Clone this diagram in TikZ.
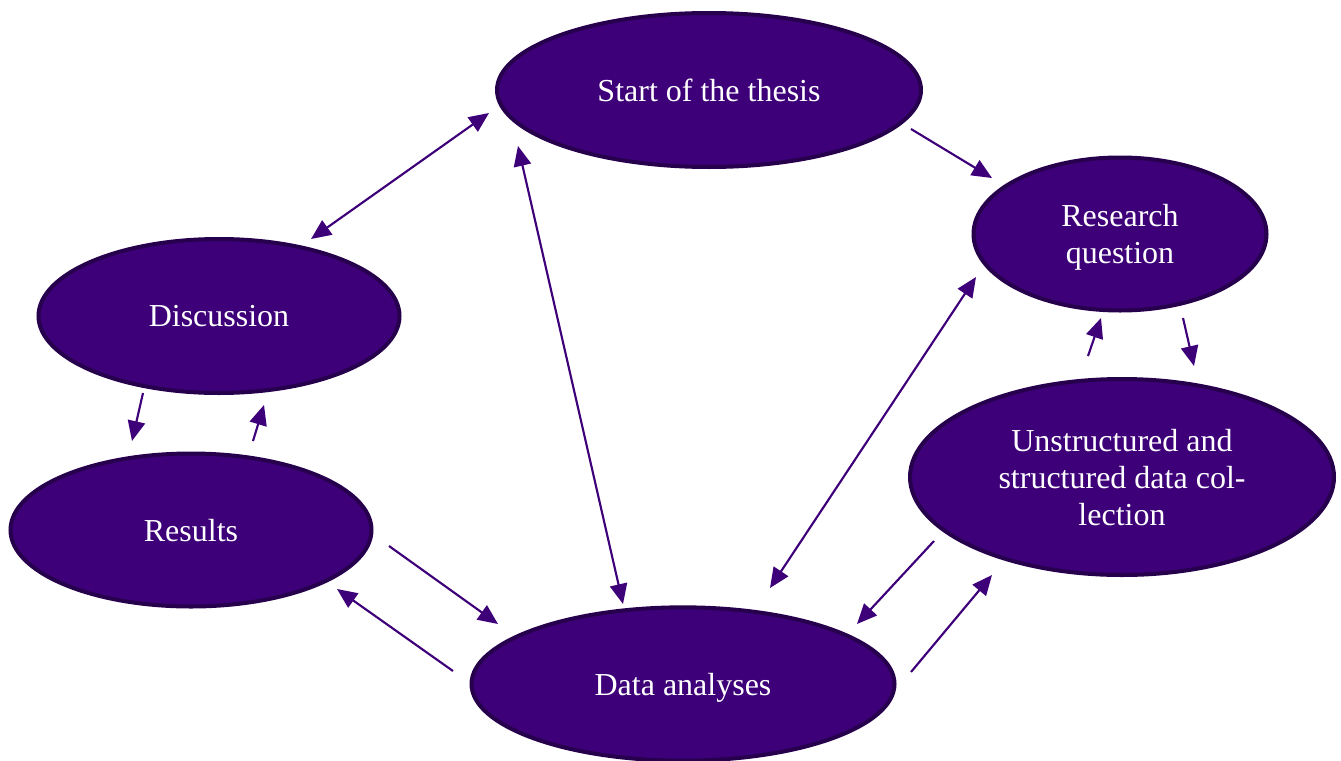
\documentclass[tikz,border=0pt]{standalone}
\usepackage{fontspec}
\setmainfont{Liberation Serif}
\usetikzlibrary{shapes.geometric,arrows.meta}
\definecolor{thesispurple}{RGB}{61,0,121}
\definecolor{thesisrim}{RGB}{38,0,76}

\begin{document}
\begin{tikzpicture}[x=0.75pt,y=-0.75pt,
		stage/.style={ellipse,draw=thesisrim,line width=3pt,fill=thesispurple,text=white,inner sep=0pt,outer sep=0pt,align=center,text depth=0pt,font=\fontsize{24}{27.75}\selectfont},
		link/.style={thesispurple,line width=1.6pt,-{Triangle[length=15pt,width=13pt]}},
		twolink/.style={link,{Triangle[length=15pt,width=13pt]}-{Triangle[length=15pt,width=13pt]}}]
		\useasboundingbox (0,0) rectangle (1341,760);
		\node[stage,minimum width=318pt,minimum height=115.5pt] (start) at (709,90) {Start of the thesis};
		\node[stage,minimum width=219.75pt,minimum height=114.75pt] (research) at (1120,234) {Research\\question};
		\node[stage,minimum width=270.75pt,minimum height=115.5pt] (disc) at (219,316) {Discussion};
		\node[stage,minimum width=270.75pt,minimum height=114.75pt] (results) at (191,530) {Results};
		\node[stage,minimum width=318pt,minimum height=147pt] (collect) at (1122,477) {Unstructured and\\structured data col-\\lection};
		\node[stage,minimum width=317.25pt,minimum height=115pt] (data) at (683,684) {Data analyses};
		\draw[twolink] ([shift={(-220,23)}]start.center) -- ([shift={(92,-77)}]disc.center);
		\draw[twolink] ([shift={(-191,56)}]start.center) -- ([shift={(-60,-80)}]data.center);
		\draw[link] ([shift={(202,39)}]start.center) -- ([shift={(-128,-56)}]research.center);
		\draw[twolink] ([shift={(-144,43)}]research.center) -- ([shift={(87,-96)}]data.center);
		\draw[link] ([shift={(63,84)}]research.center) -- ([shift={(72,-111)}]collect.center);
		\draw[link] ([shift={(-34,-121)}]collect.center) -- ([shift={(-19,84)}]research.center);
		\draw[link] ([shift={(-188,64)}]collect.center) -- ([shift={(174,-60)}]data.center);
		\draw[link] ([shift={(228,-12)}]data.center) -- ([shift={(-130,98)}]collect.center);
		\draw[link] ([shift={(198,16)}]results.center) -- ([shift={(-185,-60)}]data.center);
		\draw[link] ([shift={(-230,-13)}]data.center) -- ([shift={(146,59)}]results.center);
		\draw[link] ([shift={(-76,77)}]disc.center) -- ([shift={(-59,-89)}]results.center);
		\draw[link] ([shift={(62,-89)}]results.center) -- ([shift={(45,89)}]disc.center);
	\end{tikzpicture}
\end{document}
